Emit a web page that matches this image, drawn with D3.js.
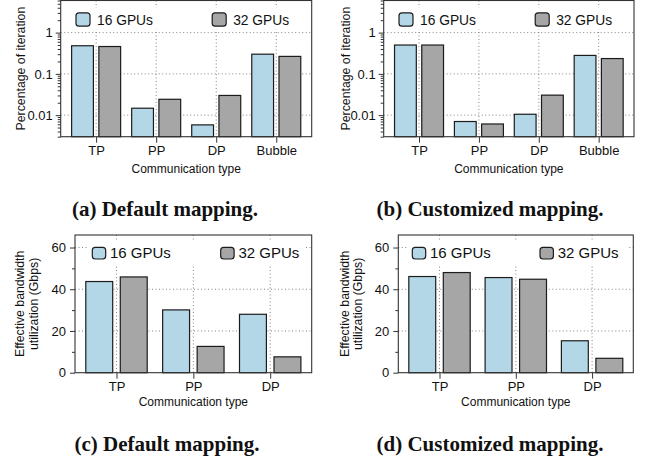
<!DOCTYPE html>
<html>
<head>
<meta charset="utf-8">
<script src="https://cdn.jsdelivr.net/npm/d3@7"></script>
<style>
    body { margin: 0; background: #fff; }
    svg { display: block; font-family: "Liberation Sans", Arial, Helvetica, sans-serif; }
    .caption { font-family: "Liberation Serif", "Times New Roman", serif; font-weight: bold; }
</style>
</head>
<body>
<svg width="651" height="460"></svg>
<script>
// Categories and series
const iterCategories = ["TP", "PP", "DP", "Bubble"];
const bwCategories = ["TP", "PP", "DP"];
const seriesNames = ["16 GPUs", "32 GPUs"];
const seriesColors = ["#b4d7e8", "#a6a6a6"];

// (a) / (b): share of an iteration, log axis
const defaultIter16 = [0.48, 0.0147, 0.0058, 0.30];
const defaultIter32 = [0.46, 0.0242, 0.030, 0.265];
const customIter16 = [0.50, 0.0070, 0.0105, 0.28];
const customIter32 = [0.50, 0.0061, 0.0305, 0.235];
const iterTicks = [0.01, 0.1, 1];
const iterTickLabels = ["0.01", "0.1", "1"];

// (c) / (d): effective bandwidth in Gbps
const defaultBw16 = [43.7, 30.1, 28.0];
const defaultBw32 = [45.9, 12.6, 7.6];
const customBw16 = [46.1, 45.6, 15.3];
const customBw32 = [48.0, 44.8, 6.9];
const bwTicks = [0, 20, 40, 60];
const bwTickLabels = ["0", "20", "40", "60"];

const captions = ["(a) Default mapping.", "(b) Customized mapping.", "(c) Default mapping.", "(d) Customized mapping."];

const svg = d3.select("svg");

function drawPanel(p) {
    const g = svg.append("g");

    const x = d3.scalePoint().domain(p.cats).range([p.left, p.right]).padding(p.pad);
    const sub = d3.scaleBand().domain(seriesNames).range([-p.half, p.half]).paddingInner(p.inner);
    const y = (p.log ? d3.scaleLog() : d3.scaleLinear()).domain(p.yDomain).range([p.bottom, p.top]);

    // dotted grid behind everything
    const grid = g.append("g")
        .attr("stroke", "#777")
        .attr("stroke-width", 0.9)
        .attr("stroke-dasharray", "1,2.5");
    grid.selectAll(".h").data(p.ticks.filter(t => y(t) < p.bottom - 1)).enter().append("line")
        .attr("x1", p.left).attr("x2", p.right)
        .attr("y1", d => y(d)).attr("y2", d => y(d));
    grid.selectAll(".v").data(p.cats).enter().append("line")
        .attr("x1", d => x(d)).attr("x2", d => x(d))
        .attr("y1", p.top).attr("y2", p.bottom);

    // bars, one group per category
    const rows = p.cats.map((c, i) => ({cat: c, vals: p.values.map(v => v[i])}));
    g.selectAll(".cat").data(rows).enter().append("g")
        .attr("transform", d => "translate(" + x(d.cat) + ",0)")
        .selectAll("rect").data(d => d.vals.map((v, k) => ({name: seriesNames[k], v: v, k: k})))
        .enter().append("rect")
        .attr("x", d => sub(d.name))
        .attr("width", sub.bandwidth())
        .attr("y", d => y(d.v))
        .attr("height", d => p.bottom - y(d.v))
        .attr("fill", d => seriesColors[d.k])
        .attr("stroke", "#1c1c1c")
        .attr("stroke-width", 1.2);

    // legend with a white backing so the grid stops behind it
    const leg = g.append("g");
    leg.append("rect")
        .attr("x", p.left + p.legX[0] - 4)
        .attr("y", p.top + 7)
        .attr("width", p.right - p.left - p.legX[0] - 2)
        .attr("height", 22)
        .attr("fill", "#fff");
    seriesNames.forEach((name, k) => {
        leg.append("rect")
            .attr("x", p.left + p.legX[k])
            .attr("y", p.top + 12.3)
            .attr("width", p.sw[0])
            .attr("height", p.sw[1])
            .attr("rx", 3)
            .attr("fill", seriesColors[k])
            .attr("stroke", "#1c1c1c")
            .attr("stroke-width", 1.2);
        leg.append("text")
            .attr("x", p.left + p.legX[k] + p.textGap)
            .attr("y", p.top + p.legBase)
            .attr("font-size", p.legSize + "px")
            .attr("fill", "#111")
            .text(name);
    });

    // frame
    g.append("rect")
        .attr("x", p.left).attr("y", p.top)
        .attr("width", p.right - p.left).attr("height", p.bottom - p.top)
        .attr("fill", "none")
        .attr("stroke", "#333")
        .attr("stroke-width", 1.1);

    // y axis: major + minor ticks
    const yAxis = g.append("g")
        .attr("transform", "translate(" + p.left + ",0)")
        .call(d3.axisLeft(y).tickValues(p.ticks).tickSize(5).tickPadding(p.yPad)
            .tickFormat((d, i) => p.tickLabels[i]));
    const minors = y.ticks(p.log ? 10 : 7).filter(t => !p.ticks.includes(t) && y(t) >= p.top);
    const yMinor = g.append("g")
        .attr("transform", "translate(" + p.left + ",0)")
        .call(d3.axisLeft(y).tickValues(minors).tickSize(3).tickFormat(""));

    // x axis
    const xAxis = g.append("g")
        .attr("transform", "translate(0," + p.bottom + ")")
        .call(d3.axisBottom(x).tickSize(6).tickPadding(3));

    [yAxis, yMinor, xAxis].forEach(a => {
        a.select(".domain").remove();
        a.selectAll("line").attr("stroke", "#333");
        a.selectAll("text").attr("font-size", "13px").attr("fill", "#111")
            .attr("font-family", "'Liberation Sans', Arial, sans-serif");
    });

    // axis titles
    g.append("text")
        .attr("x", (p.left + p.right) / 2)
        .attr("y", p.xTitleY)
        .attr("text-anchor", "middle")
        .attr("font-size", "12px")
        .attr("fill", "#111")
        .text("Communication type");
    p.yTitle.forEach((line, i) => {
        g.append("text")
            .attr("transform", "translate(" + p.yTitleX[i] + "," + (p.top + p.bottom) / 2 + ") rotate(-90)")
            .attr("text-anchor", "middle")
            .attr("font-size", "12.3px")
            .attr("fill", "#111")
            .text(line);
    });

    // caption
    svg.append("text")
        .attr("class", "caption")
        .attr("x", p.capX)
        .attr("y", p.capY)
        .attr("text-anchor", "middle")
        .attr("font-size", "21px")
        .attr("fill", "#111")
        .text(p.caption);
}

const topPanel = {
    cats: iterCategories, log: true, yDomain: [0.003, 6], ticks: iterTicks, tickLabels: iterTickLabels,
    top: 0.5, bottom: 136.7, pad: 0.59, half: 24.5, inner: 0.2, yPad: 3,
    legX: [15.3, 151.5], sw: [14, 13.4], textGap: 21, legBase: 24, legSize: 13.8,
    xTitleY: 172.5, yTitle: ["Percentage of iteration"], capY: 216
};
const bottomPanel = {
    cats: bwCategories, log: false, yDomain: [0, 66], ticks: bwTicks, tickLabels: bwTickLabels,
    top: 235, bottom: 372.7, pad: 0.54, half: 30.7, inner: 0.22, yPad: 4,
    sw: [13.4, 11.7], textGap: 17.7, legBase: 23.3, legSize: 15,
    xTitleY: 406, yTitle: ["Effective bandwidth", "utilization (Gbps)"], capY: 451
};

drawPanel(Object.assign({}, topPanel, {
    left: 60.7, right: 311.7, values: [defaultIter16, defaultIter32],
    yTitleX: [24.5], capX: 165, caption: captions[0]
}));
drawPanel(Object.assign({}, topPanel, {
    left: 383.7, right: 634, values: [customIter16, customIter32],
    yTitleX: [349.5], capX: 490, caption: captions[1]
}));
drawPanel(Object.assign({}, bottomPanel, {
    left: 75, right: 311.7, values: [defaultBw16, defaultBw32], legX: [17.3, 145.7],
    yTitleX: [24, 37.5], capX: 167, caption: captions[2]
}));
drawPanel(Object.assign({}, bottomPanel, {
    left: 398.3, right: 633.3, values: [customBw16, customBw32], legX: [14, 141.7],
    yTitleX: [349, 362], capX: 490, caption: captions[3]
}));
</script>
</body>
</html>
